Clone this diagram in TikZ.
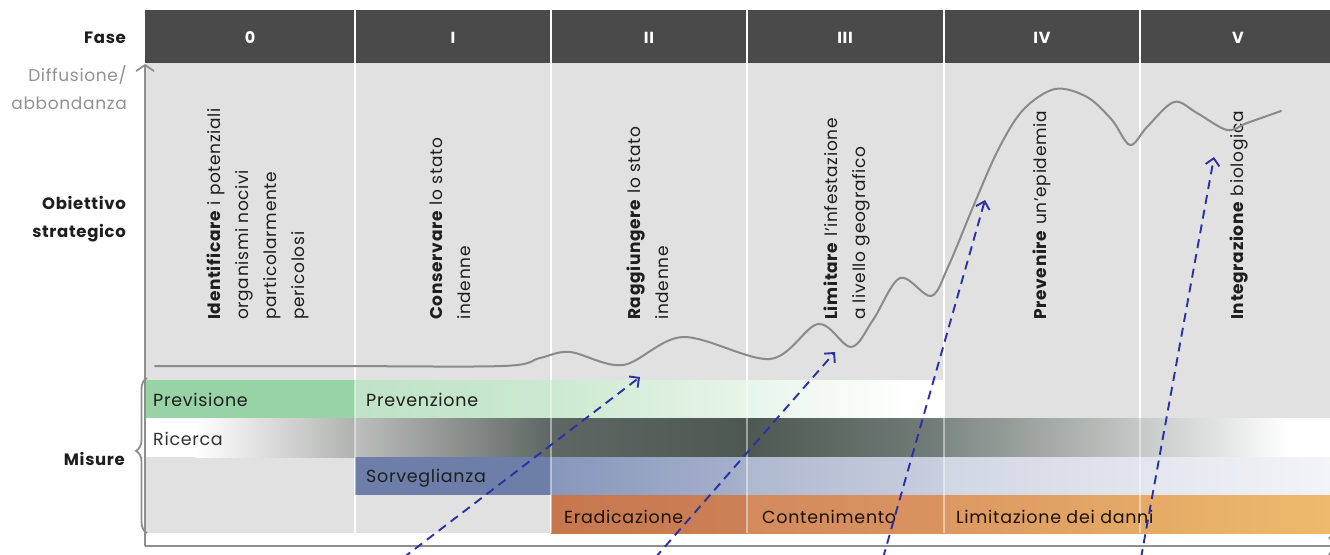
\documentclass[tikz,border=0pt]{standalone}
\usepackage{fontspec}
\setmainfont{Poppins}[LetterSpace=4]
\usetikzlibrary{arrows.meta,decorations.pathreplacing,calc}
\definecolor{hdr}{HTML}{4A4A4A}
\definecolor{bg}{HTML}{E1E1E1}
\definecolor{txt}{HTML}{1E1E1E}
\definecolor{lgray}{HTML}{929292}
\definecolor{axisc}{HTML}{8E8E8E}
\definecolor{curvec}{HTML}{8A8A8A}
\definecolor{arrc}{HTML}{2B30A6}
\definecolor{gA}{HTML}{98D3A6}
\definecolor{gB}{HTML}{BFE3C6}
\definecolor{gC}{HTML}{CBE9D0}
\definecolor{kA}{HTML}{B0B2B0}
\definecolor{kB}{HTML}{BDBEBD}
\definecolor{kC}{HTML}{5E6763}
\definecolor{kD}{HTML}{4E5853}
\definecolor{kE}{HTML}{747E7A}
\definecolor{kF}{HTML}{7E8884}
\definecolor{kG}{HTML}{A8AEAB}
\definecolor{kH}{HTML}{E0E2E1}
\definecolor{bA}{HTML}{6D7FA8}
\definecolor{bB}{HTML}{8797BB}
\definecolor{bC}{HTML}{A6B1CB}
\definecolor{bD}{HTML}{AEB8CF}
\definecolor{bE}{HTML}{C9CFDF}
\definecolor{bF}{HTML}{D0D6E3}
\definecolor{bG}{HTML}{F3F4F8}
\definecolor{oA}{HTML}{C6774E}
\definecolor{oB}{HTML}{CC8056}
\definecolor{oC}{HTML}{D38A5D}
\definecolor{oD}{HTML}{D99360}
\definecolor{oE}{HTML}{DC9862}
\definecolor{oF}{HTML}{EDBB6B}
\tikzset{
  lbl/.style={anchor=east, inner sep=0pt, font=\fontsize{16.5}{16.5}\selectfont\bfseries, text=txt},
  glbl/.style={anchor=east, inner sep=0pt, font=\fontsize{17}{17}\selectfont, text=lgray},
  hnum/.style={inner sep=0pt, text=white, font=\fontsize{16}{16}\selectfont\bfseries},
  obj/.style={rotate=90, anchor=north west, align=left, inner sep=0pt, font=\fontsize{17}{28}\selectfont, text=txt},
  bartxt/.style={anchor=west, inner sep=0pt, font=\fontsize{17.5}{17.5}\selectfont, text=txt},
  curve/.style={draw=curvec, line width=2pt, line cap=round, line join=round},
  darr/.style={draw=arrc, line width=1.9pt, dash pattern=on 9pt off 6pt, -{Straight Barb[length=7pt,width=14pt,line width=1.9pt]}},
  sep/.style={draw=white, line width=2pt},
  axis/.style={draw=axisc, line width=1.8pt}
}
\begin{document}
\begin{tikzpicture}[x=1pt,y=-1pt]
\useasboundingbox (0,0) rectangle (1330,554);
\fill[white] (0,0) rectangle (1330,554);
% header and background
\fill[hdr] (145,10) rectangle (1330,63);
\fill[bg] (145,63) rectangle (1330,533);
\foreach \x in {355,551,747,944,1140} \draw[sep] (\x,10) -- (\x,533);
% row 1
\fill[gA] (145,380) rectangle (355,418);
\shade[left color=gB, right color=gC] (355,380) rectangle (551,418);
\shade[left color=gC, right color=white] (551,380) rectangle (910,418);
\fill[white] (910,380) rectangle (944,418);
% row 2
\fill[white] (145,418) rectangle (195,457);
\shade[left color=white, right color=kA] (195,418) rectangle (355,457);
\shade[left color=kB, right color=kC] (355,418) rectangle (551,457);
\shade[left color=kC, right color=kD] (551,418) rectangle (747,457);
\shade[left color=kD, right color=kE] (747,418) rectangle (944,457);
\shade[left color=kF, right color=kG] (944,418) rectangle (1062,457);
\shade[left color=kG, right color=kH] (1062,418) rectangle (1214,457);
\shade[left color=kH, right color=white] (1214,418) rectangle (1290,457);
\fill[white] (1290,418) rectangle (1330,457);
% row 3
\fill[bA] (355,457) rectangle (551,495);
\shade[left color=bB, right color=bC] (551,457) rectangle (747,495);
\shade[left color=bD, right color=bE] (747,457) rectangle (944,495);
\shade[left color=bF, right color=bG] (944,457) rectangle (1330,495);
% row 4
\shade[left color=oA, right color=oB] (551,495) rectangle (747,533);
\shade[left color=oC, right color=oD] (747,495) rectangle (944,533);
\shade[left color=oE, right color=oF] (944,495) rectangle (1330,533);
% separators over bars
\foreach \x in {355,551,747,944,1140} \draw[sep, opacity=.45] (\x,380) -- (\x,533);
% axes
\draw[axis, -{Straight Barb[length=6pt,width=18pt,line width=1.8pt]}] (145,546) -- (145,64);
\draw[axis, -{Straight Barb[length=6pt,width=18pt,line width=1.8pt]}] (145,546) -- (1336,546);
% left labels
\node[lbl] (fase) at (126,38) {Fase};
\node[glbl] (diff) at (127,75) {Diffusione/};
\node[glbl] (abb) at (127,103) {abbondanza};
\node[lbl] (obi) at (126,203) {Obiettivo};
\node[lbl] (str) at (126,233) {strategico};
\node[lbl] (mis) at (125,459) {Misure};
\draw[draw=axisc, line width=1.8pt, decorate, decoration={brace, amplitude=11pt, aspect=0.53}] (147,533) -- (147,378);
% header numbers
\node[hnum] (h0) at (250,38) {0};
\node[hnum] (h1) at (453,38) {I};
\node[hnum] (h2) at (649,38) {II};
\node[hnum] (h3) at (845,38) {III};
\node[hnum] (h4) at (1042,38) {IV};
\node[hnum] (h5) at (1238,38) {V};
% objectives
\node[obj] (o0) at (207,320) {\textbf{Identificare} i potenziali\\organismi nocivi\\particolarmente\\pericolosi};
\node[obj] (o1) at (430,320) {\textbf{Conservare} lo stato\\indenne};
\node[obj] (o2) at (627,320) {\textbf{Raggiungere} lo stato\\indenne};
\node[obj] (o3) at (824,320) {\textbf{Limitare} l'infestazione\\a livello geografico};
\node[obj] (o4) at (1033,320) {\textbf{Prevenire} un'epidemia};
\node[obj] (o5) at (1230,320) {\textbf{Integrazione} biologica};
% curve
\draw[curve] plot[smooth, tension=0.55] coordinates {(155,366) (330,366) (503,366) (540,358) (570,352) (623,365) (683,337) (770,359) (818,324) (851,347) (873,320) (900,278) (931,296) (948,267) (973,207) (998,150) (1023,110) (1055,89) (1087,97) (1112,120) (1130,145) (1147,127) (1174,102) (1197,113) (1227,130) (1247,123) (1281,111)};
% measure texts
\node[bartxt] (m1) at (153,400) {Previsione};
\node[bartxt] (m2) at (366,400) {Prevenzione};
\node[bartxt, text=black!80] (m3) at (153,439) {Ricerca};
\node[bartxt] (m4) at (366,478) {Sorveglianza};
\node[bartxt, text=black!85!brown] (m5) at (564,517) {Eradicazione};
\node[bartxt, text=black!85!brown] (m6) at (762,517) {Contenimento};
\node[bartxt, text=black!85!brown] (m7) at (956,517) {Limitazione dei danni};
% dashed arrows
\coordinate (s1) at (403,558); \coordinate (t1) at (640,377);
\coordinate (s2) at (655,558); \coordinate (t2) at (835,352);
\coordinate (s3) at (883,558); \coordinate (t3) at (985,200);
\coordinate (s4) at (1141,558); \coordinate (t4) at (1214,157);
\draw[darr] (s1) -- (t1);
\draw[darr] (s2) -- (t2);
\draw[darr] (s3) -- (t3);
\draw[darr] (s4) -- (t4);
\end{tikzpicture}
\end{document}
